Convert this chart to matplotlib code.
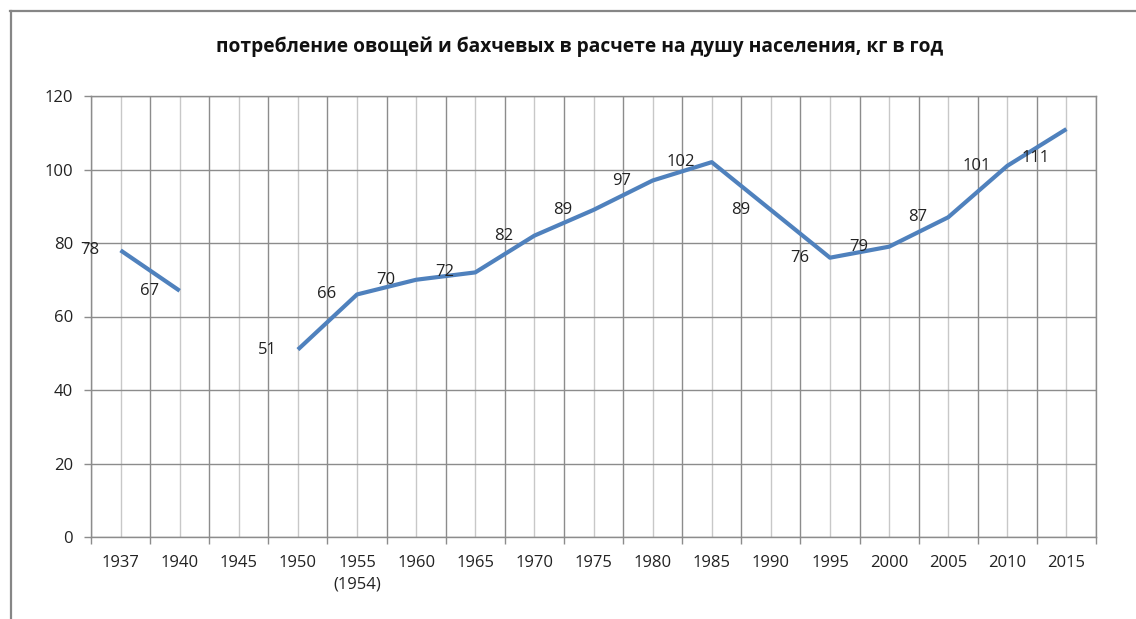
import numpy as np
import matplotlib
matplotlib.use("Agg")
import matplotlib.pyplot as plt
from matplotlib.lines import Line2D

categories = ["1937", "1940", "1945", "1950", "1955\n(1954)", "1960", "1965", "1970",
              "1975", "1980", "1985", "1990", "1995", "2000", "2005", "2010", "2015"]
values = [78, 67, None, 51, 66, 70, 72, 82, 89, 97, 102, 89, 76, 79, 87, 101, 111]
title = "потребление овощей и бахчевых в расчете на душу населения, кг в год"
yticks = [0, 20, 40, 60, 80, 100, 120]

plt.rcParams['font.family'] = ['Open Sans', 'DejaVu Sans']

fig = plt.figure(figsize=(11.36, 6.19), dpi=100)
ax = fig.add_axes([91/1136, 82/619, 1005/1136, 441/619])

x = np.arange(len(categories))
y = np.array([np.nan if v is None else v for v in values], dtype=float)
line_color = "#4F81BD"
ax.plot(x, y, color=line_color, lw=3.0, solid_capstyle="butt", zorder=3)

for xi, v in zip(x, values):
    if v is None:
        continue
    dy = 0
    if xi == len(categories) - 1:
        dy = -21
    ax.annotate(str(v), (xi, v), xytext=(-22, dy), textcoords="offset points",
                ha="center", va="center", fontsize=12, color="#222222", zorder=4)

ax.set_xlim(-0.5, len(categories) - 0.5)
ax.set_ylim(0, 120)
ax.set_yticks(yticks)
ax.set_yticklabels([str(t) for t in yticks], fontsize=12, color="#222222")
ax.set_xticks(x)
ax.set_xticklabels(categories, fontsize=12, color="#222222", linespacing=1.45)
ax.set_xticks(np.arange(-0.5, len(categories), 1.0), minor=True)

ax.tick_params(axis="x", which="major", length=0, pad=13)
ax.tick_params(axis="x", which="minor", length=5, color="#8c8c8c", width=1)
ax.tick_params(axis="y", which="major", length=5, color="#8c8c8c", width=1, pad=8)

ax.grid(axis="x", which="major", color="#c8c8c8", lw=1)
ax.grid(axis="x", which="minor", color="#8c8c8c", lw=1)
ax.grid(axis="y", which="major", color="#8c8c8c", lw=1)
ax.set_axisbelow(True)
for s in ax.spines.values():
    s.set_color("#8c8c8c")
    s.set_linewidth(1)

fig.text(580/1136, 1 - 47/619, title, ha="center", va="center",
         fontsize=13.8, fontweight="bold", color="#111111")

# outer chart border (left and top visible)
bc = "#868686"
fig.add_artist(Line2D([10.5/1136, 10.5/1136], [0, 1 - 11/619], transform=fig.transFigure,
                      color=bc, lw=1.6))
fig.add_artist(Line2D([10/1136, 1], [1 - 11/619, 1 - 11/619], transform=fig.transFigure,
                      color=bc, lw=1.6))

fig.savefig("out.png", dpi=100, facecolor="white")
